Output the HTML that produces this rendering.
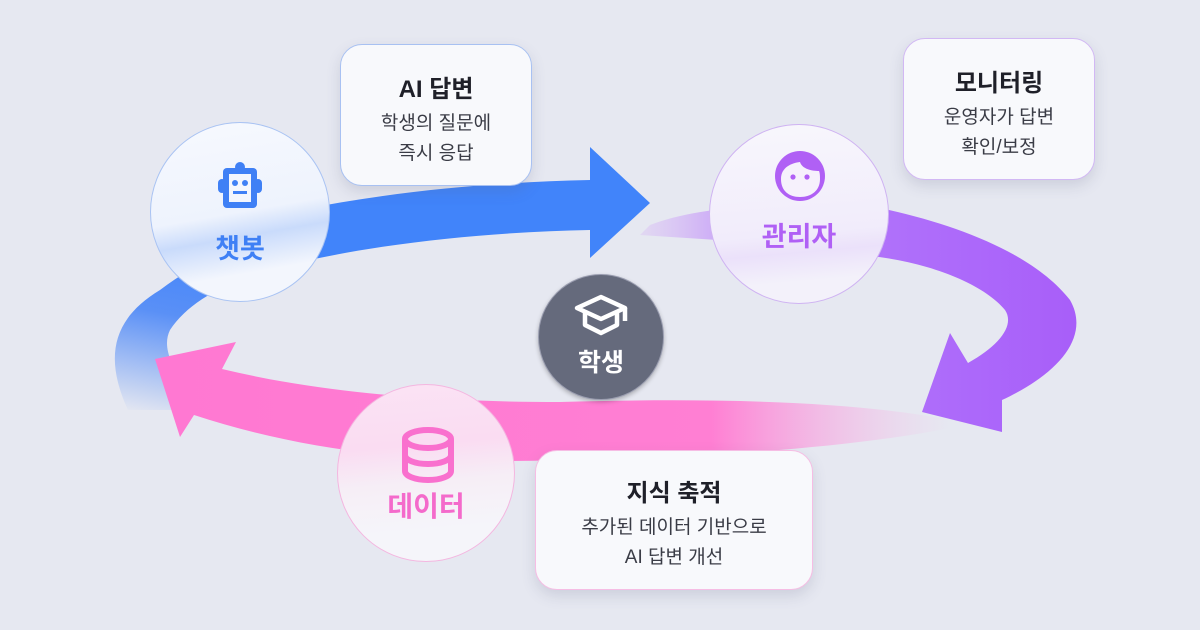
<!DOCTYPE html>
<html><head><meta charset="utf-8">
<style>
html,body{margin:0;padding:0}
body{width:1200px;height:630px;background:#e6e8f1;position:relative;overflow:hidden;font-family:"Liberation Sans","Noto Sans CJK KR",sans-serif}
svg{position:absolute;left:0;top:0}
.card{position:absolute;background:#f8f9fc;border-radius:22px;box-shadow:0 6px 14px rgba(90,95,130,.18);text-align:center;color:#2a2c36}
.card h3{margin:0;font-size:24px;font-weight:bold;color:#1f2029}
.card p{margin:0;font-size:19px;line-height:30px;color:#3a3c46}
.circ{position:absolute;border-radius:50%;text-align:center}
.lbl{position:absolute;width:100%;left:0;font-weight:bold;font-size:27px}
</style></head><body>
<svg width="1200" height="630" viewBox="0 0 1200 630">
<defs>
<linearGradient id="gb" x1="0" y1="1" x2="0.4" y2="0">
<stop offset="0" stop-color="#4a86f7" stop-opacity="0"/>
<stop offset="0.35" stop-color="#4a86f7" stop-opacity="0.9"/>
<stop offset="0.6" stop-color="#4184fa"/>
</linearGradient>
<linearGradient id="gp" x1="0" y1="0" x2="1" y2="0">
<stop offset="0" stop-color="#ff78d2"/>
<stop offset="0.7" stop-color="#ff7fd3"/>
<stop offset="1" stop-color="#f7b4e6" stop-opacity="0"/>
</linearGradient>
<linearGradient id="gv" x1="0" y1="0" x2="1" y2="0">
<stop offset="0" stop-color="#d6b3f5" stop-opacity="0.3"/>
<stop offset="0.3" stop-color="#b47cfb"/>
<stop offset="1" stop-color="#a85ef9"/>
</linearGradient>
</defs>
<path d="M128,410 C105,360 110,320 160,290 C200,260 230,250 300,210 C400,190 500,182 590,180 L590,147 L650,203 L590,258 L590,230 C500,232 400,240 300,262 C230,278 190,300 170,330 C160,350 175,380 215,410 Z" fill="url(#gb)"/>
<path d="M650,225 C700,205 800,200 880,208 C960,225 1035,255 1070,300 C1090,335 1062,372 1002,400 L1002,432 L922,412 L950,333 L968,363 C1000,345 1015,325 1005,310 C985,285 930,262 870,256 C800,245 720,240 640,235 Z" fill="url(#gv)"/>
<path d="M950,420 C850,400 700,398 560,402 C450,402 330,395 222,369 L236,342 L155,359 L180,437 L194,415 C300,450 420,465 560,460 C700,458 850,448 950,428 Z" fill="url(#gp)"/>
</svg>

<div class="circ" style="left:150px;top:122px;width:178px;height:178px;background:linear-gradient(170deg,#f7f9fe 0%,#eef3fd 50%,#c9dbfb 62%,#f3f6fd 80%);border:1.5px solid #a9c3f3;">
<svg width="60" height="60" viewBox="0 0 60 60" style="left:59px;top:36px">
<circle cx="30" cy="8" r="5" fill="#3f80f5"/>
<rect x="8" y="20" width="8" height="14" rx="4" fill="#3f80f5"/>
<rect x="44" y="20" width="8" height="14" rx="4" fill="#3f80f5"/>
<rect x="13" y="9" width="34" height="40" rx="4" fill="#3f80f5"/>
<rect x="19" y="15" width="22" height="28" fill="#f3f6fd"/>
<circle cx="25" cy="24" r="3" fill="#3f80f5"/><circle cx="35" cy="24" r="3" fill="#3f80f5"/>
<rect x="23" y="32" width="14" height="3" fill="#3f80f5"/>
</svg>
<div class="lbl" style="top:104px;color:#3f80f5">챗봇</div>
</div>

<div class="circ" style="left:709px;top:124px;width:178px;height:178px;background:linear-gradient(175deg,#f8f7fc 0%,#f1ecfb 60%,#ebe1fa 70%,#f3f1fa 85%);border:1.5px solid #cfb3f2;">
<svg width="60" height="60" viewBox="0 0 60 60" style="left:60px;top:20px">
<circle cx="30" cy="31" r="25" fill="#b060f5"/>
<path d="M11,34 C11,22 22,18 30,17 C32,24 42,26 49,26 C50,28 50,32 50,34 C50,46 41,52 30,52 C19,52 11,46 11,34 Z" fill="#f6f1fc"/>
<circle cx="23" cy="32" r="2.6" fill="#b060f5"/><circle cx="37" cy="32" r="2.6" fill="#b060f5"/>
</svg>
<div class="lbl" style="top:90px;color:#b060f5">관리자</div>
</div>

<div class="circ" style="left:337px;top:384px;width:176px;height:176px;background:linear-gradient(175deg,#fbe3f4 0%,#fadcf2 35%,#f6eef6 55%,#f5f5fa 80%);border:1.5px solid #f4b6e0;">
<svg width="60" height="60" viewBox="0 0 60 60" style="left:60px;top:40px">
<ellipse cx="30" cy="14" rx="23" ry="9" fill="none" stroke="#f970ce" stroke-width="6"/>
<path d="M7,14 V46 C7,51 17,55 30,55 C43,55 53,51 53,46 V14" fill="none" stroke="#f970ce" stroke-width="6"/>
<path d="M7,30 C7,35 17,39 30,39 C43,39 53,35 53,30" fill="none" stroke="#f970ce" stroke-width="6"/>
</svg>
<div class="lbl" style="top:100px;color:#f46acb;font-size:28px">데이터</div>
</div>

<div class="circ" style="left:538px;top:274px;width:124px;height:124px;background:#656a7c;box-shadow:0 2px 4px rgba(0,0,0,.25);border:1.5px solid #9a9db0;">
<svg width="60" height="50" viewBox="0 0 60 50" style="left:32px;top:18px">
<path d="M6,15 L30,4 L54,15 L30,26 Z" fill="none" stroke="#fff" stroke-width="4.5" stroke-linejoin="round"/>
<path d="M14,20 V32 L30,40 L46,32 V20" fill="none" stroke="#fff" stroke-width="4.5" stroke-linejoin="round"/>
<path d="M54,15 V28" stroke="#fff" stroke-width="4.5"/>
</svg>
<div class="lbl" style="top:68px;color:#fff;font-size:25px">학생</div>
</div>

<div class="card" style="left:340px;top:44px;width:192px;height:142px;border:1.5px solid #a8c1f2;box-sizing:border-box;">
<h3 style="margin-top:24px">AI 답변</h3>
<p style="margin-top:5px">학생의 질문에<br>즉시 응답</p>
</div>
<div class="card" style="left:903px;top:38px;width:192px;height:142px;border:1.5px solid #d2b8f4;box-sizing:border-box;">
<h3 style="margin-top:24px">모니터링</h3>
<p style="margin-top:5px">운영자가 답변<br>확인/보정</p>
</div>
<div class="card" style="left:535px;top:450px;width:278px;height:140px;border:1.5px solid #f6bde4;box-sizing:border-box;">
<h3 style="margin-top:22px">지식 축적</h3>
<p style="margin-top:5px">추가된 데이터 기반으로<br>AI 답변 개선</p>
</div>
</body></html>
